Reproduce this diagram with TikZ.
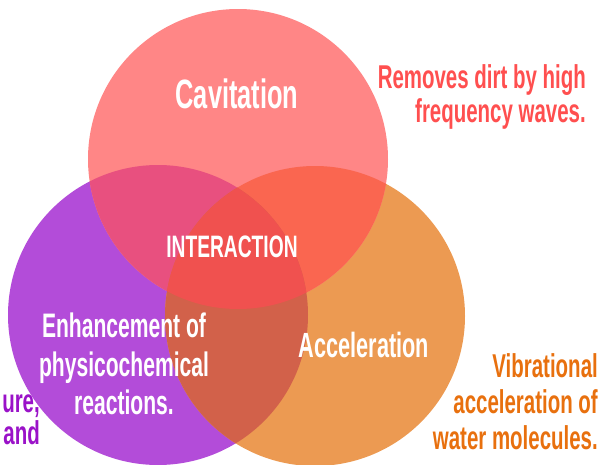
\documentclass[tikz,border=0pt]{standalone}
\usepackage{fontspec}
\newfontfamily\agency[FakeStretch=0.62]{Liberation Sans Bold}
\definecolor{cR}{HTML}{FF8686}
\definecolor{cP}{HTML}{B34CD9}
\definecolor{cO}{HTML}{EC9A52}
\definecolor{cRP}{HTML}{E8507F}
\definecolor{cRO}{HTML}{FA6650}
\definecolor{cPO}{HTML}{D2614A}
\definecolor{cAll}{HTML}{F0514F}
\definecolor{tRed}{HTML}{FF4F4F}
\definecolor{tOrange}{HTML}{E8700E}
\definecolor{tPurple}{HTML}{9A12C8}
\begin{document}
\begin{tikzpicture}[x=1pt,y=-1pt,
  lbl/.style={inner sep=0pt,text=white,font=\agency\fontsize{#1}{#1}\selectfont},
  side/.style={inner sep=0pt,align=right,font=\agency\fontsize{33}{34}\selectfont}]
\useasboundingbox (0,0) rectangle (603,464);
\coordinate (R) at (238,159);
\coordinate (P) at (158,315);
\coordinate (O) at (315,316);
% single circles
\fill[cP] (P) circle[radius=150pt];
\fill[cO] (O) circle[radius=150pt];
\fill[cR] (R) circle[radius=150pt];
% pairwise overlaps
\begin{scope}\clip (R) circle[radius=150pt]; \fill[cRP] (P) circle[radius=150pt];\end{scope}
\begin{scope}\clip (R) circle[radius=150pt]; \fill[cRO] (O) circle[radius=150pt];\end{scope}
\begin{scope}\clip (P) circle[radius=150pt]; \fill[cPO] (O) circle[radius=150pt];\end{scope}
% common core
\begin{scope}\clip (R) circle[radius=150pt]; \clip (P) circle[radius=150pt];
  \fill[cAll] (O) circle[radius=150pt];\end{scope}
% labels inside the circles
\node[lbl=41,anchor=base] (cav) at (237,108) {Cavitation};
\node[lbl=31,anchor=base] (inter) at (232,257) {INTERACTION};
\node[lbl=35,anchor=base] (acc) at (364,357) {Acceleration};
\node[inner sep=0pt,text=white,anchor=north,align=center,font=\agency\fontsize{34}{38.5}\selectfont] (enh) at (124,313)
  {Enhancement of\\physicochemical\\reactions.};
% side notes
\node[side,text=tRed,anchor=north east] (rem) at (586,64) {Removes dirt by high\\frequency waves.};
\node[side,text=tOrange,anchor=south east,font=\agency\fontsize{33}{36}\selectfont] (vib) at (598,450) {Vibrational\\acceleration of\\water molecules.};
\node[side,text=tPurple,anchor=south east,font=\agency\fontsize{33}{32}\selectfont] (tmp) at (40,445) {ure,\\and};
\end{tikzpicture}
\end{document}
